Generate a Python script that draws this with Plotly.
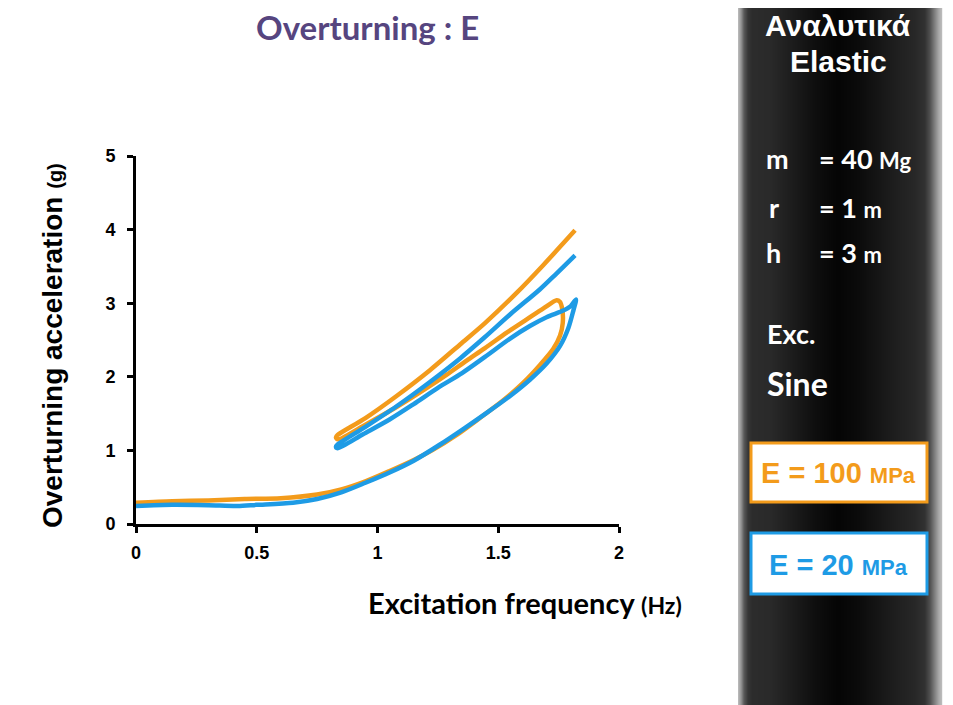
import plotly.graph_objects as go
import numpy as np

# ---------------- data ----------------
# E = 100 MPa (orange): path = lower branch -> peak -> middle branch (back) -> top branch
x_e100 = [0.00, 0.15, 0.30, 0.45, 0.60, 0.75, 0.85, 0.95, 1.05, 1.15, 1.231, 1.328, 1.424, 1.521, 1.604,
          1.673, 1.728, 1.756, 1.767, 1.765, 1.755, 1.742,
          1.687, 1.618, 1.535, 1.445, 1.369, 1.287, 1.20, 1.079, 0.95, 0.835, 0.828,
          0.835, 0.95, 1.079, 1.217, 1.342, 1.445, 1.576, 1.687, 1.818]
y_e100 = [0.29, 0.31, 0.32, 0.34, 0.35, 0.40, 0.47, 0.58, 0.72, 0.87, 1.01, 1.21, 1.44, 1.68, 1.92,
          2.16, 2.38, 2.56, 2.73, 2.92, 3.02, 3.04,
          2.93, 2.78, 2.60, 2.39, 2.22, 2.03, 1.84, 1.59, 1.35, 1.15, 1.18,
          1.21, 1.44, 1.74, 2.09, 2.44, 2.73, 3.14, 3.52, 3.99]

# E = 20 MPa (blue)
x_e20 = [0.00, 0.15, 0.30, 0.42, 0.50, 0.65, 0.75, 0.85, 0.95, 1.05, 1.15, 1.259, 1.355, 1.452, 1.549,
         1.631, 1.70, 1.756, 1.79, 1.811, 1.822,
         1.80, 1.769, 1.70, 1.631, 1.549, 1.445, 1.35, 1.25, 1.15, 1.05, 0.94, 0.835, 0.828,
         0.835, 0.95, 1.079, 1.217, 1.342, 1.445, 1.55, 1.673, 1.74, 1.818]
y_e20 = [0.245, 0.26, 0.255, 0.245, 0.26, 0.29, 0.34, 0.43, 0.56, 0.70, 0.86, 1.08, 1.29, 1.51, 1.74,
         1.96, 2.18, 2.42, 2.66, 2.90, 3.05,
         2.96, 2.90, 2.81, 2.69, 2.52, 2.27, 2.05, 1.85, 1.63, 1.42, 1.22, 1.03, 1.05,
         1.08, 1.32, 1.60, 1.93, 2.25, 2.54, 2.85, 3.19, 3.40, 3.65]

x_ticks = [0, 0.5, 1, 1.5, 2]
x_ticklabels = ["0", "0.5", "1", "1.5", "2"]
y_ticks = [0, 1, 2, 3, 4, 5]

series_names = ["E = 100 MPa", "E = 20 MPa"]
ORANGE = "#F39B1B"
BLUE = "#1E9BE5"

# ---------------- layout helpers ----------------
OFF = 8                      # page body margin of the browser
SW, SH = 953, 705            # screen size
SL, SR, ST, SB = 136, 619, 156, 524   # plot area on screen (pixels)
W, H = SW - OFF, SH - OFF


def px(x):
    return (x - SL) / (SR - SL)


def py(y):
    return (SB - y) / (SB - ST)


fig = go.Figure()
fig.add_trace(go.Scatter(x=x_e100, y=y_e100, mode="lines", name=series_names[0],
                         line=dict(color=ORANGE, width=4.5, shape="spline", smoothing=0.8)))
fig.add_trace(go.Scatter(x=x_e20, y=y_e20, mode="lines", name=series_names[1],
                         line=dict(color=BLUE, width=4.5, shape="spline", smoothing=0.8)))

axis_common = dict(showline=True, linecolor="black", linewidth=3, ticks="outside", ticklen=6,
                   tickwidth=3, tickcolor="black", showgrid=False, zeroline=False,
                   tickfont=dict(family="Liberation Sans", size=18, color="black", weight="bold"))
fig.update_xaxes(range=[0, 2], tickvals=x_ticks, ticktext=x_ticklabels, ticklabelstandoff=4,
                 **axis_common)
fig.update_yaxes(range=[0, 5], tickvals=y_ticks, ticklabelstandoff=8, **axis_common)

shapes = []
# dark cylinder-like panel on the right: grayscale profile across its width
prof_x = [738, 741, 744, 748, 752, 770, 790, 815, 838, 860, 890, 915, 925, 930, 935, 939, 942]
prof_g = [190, 150, 90, 55, 45, 42, 30, 15, 5, 12, 28, 40, 50, 80, 130, 170, 190]
for xp in range(738, 942):
    g = int(np.interp(xp + 0.5, prof_x, prof_g))
    shapes.append(dict(type="rect", xref="paper", yref="paper",
                       x0=px(xp), x1=px(xp + 1.2), y0=py(SH + 5), y1=py(-5),
                       fillcolor=f"rgb({g},{g},{g})", line=dict(width=0), layer="below"))
# legend boxes
shapes.append(dict(type="rect", xref="paper", yref="paper", x0=px(751), x1=px(927),
                   y0=py(502), y1=py(443), fillcolor="white", line=dict(color=ORANGE, width=3)))
shapes.append(dict(type="rect", xref="paper", yref="paper", x0=px(751), x1=px(927),
                   y0=py(594), y1=py(533), fillcolor="white", line=dict(color=BLUE, width=3)))

ann = []


def add_text(text, x, y, size, color="white", family="Lato", xanchor="center", angle=0):
    ann.append(dict(text=text, x=px(x), y=py(y), xref="paper", yref="paper", showarrow=False,
                    xanchor=xanchor, yanchor="middle", textangle=angle,
                    font=dict(family=family, size=size, color=color, weight="bold")))


# titles
add_text("Overturning : E", 367, 27, 33, color="#56457F")
add_text("Excitation frequency <span style='font-size:23px'>(Hz)</span>", 525, 602, 29, color="black")
add_text("Overturning acceleration <span style='font-size:20px'>(g)</span>", 52, 346, 28,
         color="black", family="Liberation Sans", angle=-90)

# panel texts
add_text("Αναλυτικά", 838, 25, 30, family="Liberation Sans")
add_text("Elastic", 838, 61, 30, family="Liberation Sans")
add_text("m", 764, 158, 27, xanchor="left")
add_text("= 40 <span style='font-size:22px'>Mg</span>", 817, 158, 27, xanchor="left")
add_text("r", 767, 207, 27, xanchor="left")
add_text("= 1 <span style='font-size:22px'>m</span>", 817, 207, 27, xanchor="left")
add_text("h", 764, 252, 27, xanchor="left")
add_text("= 3 <span style='font-size:22px'>m</span>", 817, 252, 27, xanchor="left")
add_text("Exc.", 765, 333, 27, xanchor="left")
add_text("Sine", 765, 383, 32, xanchor="left")
add_text("E = 100 <span style='font-size:22px'>MPa</span>", 838, 473, 29, color=ORANGE,
         family="Liberation Sans")
add_text("E = 20 <span style='font-size:22px'>MPa</span>", 838, 565, 29, color=BLUE,
         family="Liberation Sans")

fig.update_layout(width=W, height=H,
                  margin=dict(l=SL - OFF, r=SW - SR, t=ST - OFF, b=SH - SB),
                  paper_bgcolor="white", plot_bgcolor="white", showlegend=False,
                  shapes=shapes, annotations=ann)

fig.write_html("out.html")
